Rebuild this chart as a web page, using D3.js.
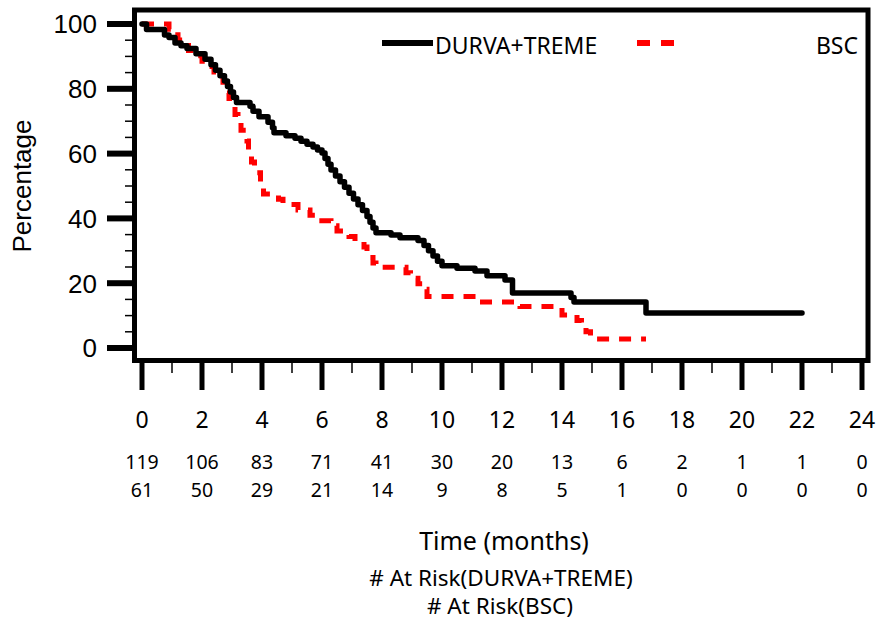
<!DOCTYPE html>
<html>
<head>
<meta charset="utf-8">
<script src="https://cdn.jsdelivr.net/npm/d3@7"></script>
<style>
  body { margin: 0; background: #fff; }
  svg { display: block; }
</style>
</head>
<body>
<div id="chart"></div>
<script>
// KM curves: [month, percent]
const durvaTreme = [
  [0, 100], [0.15, 98.3], [0.75, 96.6], [0.9, 95.8], [1.1, 94.1], [1.3, 93.3],
  [1.5, 92.4], [1.8, 90.8], [2.1, 89.1], [2.3, 87.4], [2.45, 85.7], [2.6, 84.0],
  [2.75, 82.4], [2.85, 80.7], [2.95, 79.0], [3.05, 77.3], [3.15, 75.8], [3.6, 74.6],
  [3.7, 73.1], [3.9, 71.4], [4.2, 69.7], [4.35, 68.0], [4.4, 66.4], [4.8, 65.5],
  [5.1, 64.7], [5.3, 63.8], [5.5, 62.9], [5.7, 62.0], [5.85, 61.1], [6.0, 60.2],
  [6.1, 58.5], [6.2, 56.7], [6.3, 54.9], [6.45, 53.1], [6.6, 51.3], [6.75, 49.6],
  [6.9, 47.8], [7.05, 46.0], [7.2, 44.2], [7.35, 42.4], [7.5, 40.6], [7.6, 38.8],
  [7.7, 37.0], [7.8, 35.6], [8.3, 34.9], [8.6, 34.0], [9.2, 33.2], [9.4, 31.6],
  [9.55, 30.0], [9.7, 28.4], [9.85, 26.8], [10.0, 25.4], [10.5, 24.6], [11.1, 23.8],
  [11.5, 22.3], [12.1, 21.0], [12.35, 17.0], [14.3, 15.6], [14.4, 14.2],
  [16.8, 10.8], [22.0, 10.8]
];
const bsc = [
  [0, 100], [0.9, 98.4], [1.1, 96.7], [1.2, 95.1], [1.4, 93.4], [1.55, 91.8],
  [1.8, 90.2], [2.0, 88.5], [2.2, 86.9], [2.4, 85.2], [2.55, 83.6], [2.7, 82.0],
  [2.8, 78.7], [2.9, 77.0], [3.0, 75.4], [3.1, 72.1], [3.2, 70.5], [3.3, 67.2],
  [3.5, 63.9], [3.55, 60.7], [3.65, 57.4], [3.75, 54.1], [3.95, 50.8], [4.05, 47.5],
  [4.55, 45.9], [4.7, 44.3], [5.2, 42.6], [5.6, 41.0], [5.8, 39.3], [6.3, 37.7],
  [6.5, 36.1], [6.9, 34.4], [7.1, 32.8], [7.4, 31.2], [7.5, 29.5], [7.6, 27.9],
  [7.7, 26.2], [7.8, 24.9], [8.8, 23.2], [8.95, 21.5], [9.2, 19.8], [9.35, 18.1],
  [9.5, 15.9], [11.2, 14.2], [12.6, 12.8], [14.0, 10.2], [14.5, 8.5], [14.65, 6.8],
  [14.8, 5.0], [14.95, 2.8], [16.8, 2.8]
];

const xTicks = d3.range(0, 25, 2);
const yTicks = [0, 20, 40, 60, 80, 100];
const riskDurva = [119, 106, 83, 71, 41, 30, 20, 13, 6, 2, 1, 1, 0];
const riskBsc = [61, 50, 29, 21, 14, 9, 8, 5, 1, 0, 0, 0, 0];

const width = 881, height = 622;

const svg = d3.select("#chart").append("svg")
    .attr("width", width)
    .attr("height", height);

const x = d3.scaleLinear().domain([0, 24]).range([142, 862]);
const y = d3.scaleLinear().domain([0, 100]).range([348, 24]);

// frame
const box = { left: 134.5, top: 10, right: 868, bottom: 360.5 };
svg.append("rect")
    .attr("x", box.left).attr("y", box.top)
    .attr("width", box.right - box.left).attr("height", box.bottom - box.top)
    .attr("fill", "none").attr("stroke", "#000").attr("stroke-width", 5);

// y axis ticks
svg.selectAll(".ymajor").data(yTicks).join("line")
    .attr("x1", 107).attr("x2", box.left)
    .attr("y1", d => y(d)).attr("y2", d => y(d))
    .attr("stroke", "#000").attr("stroke-width", 6);
svg.selectAll(".yminor").data(d3.range(5, 100, 5).filter(d => d % 20))
  .join("line")
    .attr("x1", 125).attr("x2", box.left)
    .attr("y1", d => y(d)).attr("y2", d => y(d))
    .attr("stroke", "#000").attr("stroke-width", 1.5);
svg.selectAll(".ylab").data(yTicks).join("text")
    .attr("x", 97).attr("y", d => y(d))
    .attr("dy", "0.36em")
    .attr("text-anchor", "end")
    .attr("font-family", "Liberation Sans, Arial, sans-serif")
    .attr("font-size", 26)
    .text(d => d);

svg.append("text")
    .attr("transform", "translate(31,186) rotate(-90)")
    .attr("text-anchor", "middle")
    .attr("font-family", "Liberation Sans, Arial, sans-serif")
    .attr("font-size", 26)
    .text("Percentage");

// x axis ticks
svg.selectAll(".xmajor").data(xTicks).join("line")
    .attr("x1", d => x(d)).attr("x2", d => x(d))
    .attr("y1", box.bottom).attr("y2", 390)
    .attr("stroke", "#000").attr("stroke-width", 5);
svg.selectAll(".xminor").data(d3.range(1, 24, 2)).join("line")
    .attr("x1", d => x(d)).attr("x2", d => x(d))
    .attr("y1", box.bottom).attr("y2", 373)
    .attr("stroke", "#000").attr("stroke-width", 1.5);
svg.selectAll(".xlab").data(xTicks).join("text")
    .attr("x", d => x(d)).attr("y", 420)
    .attr("dy", "0.36em")
    .attr("text-anchor", "middle")
    .attr("font-family", "Noto Sans, sans-serif")
    .attr("font-size", 23)
    .text(d => d);

// at risk rows
[riskDurva, riskBsc].forEach((row, i) => {
  svg.selectAll(".risk" + i).data(row).join("text")
      .attr("x", (d, j) => x(xTicks[j])).attr("y", 462 + i * 28)
      .attr("dy", "0.36em")
      .attr("text-anchor", "middle")
      .attr("font-family", "Noto Sans, sans-serif")
      .attr("font-size", 19.5)
      .text(d => d);
});

svg.append("text")
    .attr("x", 504).attr("y", 541).attr("dy", "0.36em")
    .attr("text-anchor", "middle")
    .attr("font-family", "Noto Sans, sans-serif")
    .attr("font-size", 25)
    .text("Time (months)");
svg.append("text")
    .attr("x", 501).attr("y", 578).attr("dy", "0.36em")
    .attr("text-anchor", "middle")
    .attr("font-family", "Noto Sans, sans-serif")
    .attr("font-size", 22.5)
    .text("# At Risk(DURVA+TREME)");
svg.append("text")
    .attr("x", 500).attr("y", 606).attr("dy", "0.36em")
    .attr("text-anchor", "middle")
    .attr("font-family", "Noto Sans, sans-serif")
    .attr("font-size", 22.5)
    .text("# At Risk(BSC)");

// curves
const line = d3.line()
    .x(d => x(d[0]))
    .y(d => y(d[1]))
    .curve(d3.curveStepAfter);

svg.append("path")
    .datum(bsc)
    .attr("d", line)
    .attr("fill", "none")
    .attr("stroke", "#ff0000")
    .attr("stroke-width", 5)
    .attr("stroke-dasharray", "12,10");

svg.append("path")
    .datum(durvaTreme)
    .attr("d", line)
    .attr("fill", "none")
    .attr("stroke", "#000")
    .attr("stroke-width", 5.5)
    .attr("stroke-linejoin", "round")
    .attr("stroke-linecap", "round");

// legend
svg.append("line")
    .attr("x1", 382).attr("x2", 433).attr("y1", 43).attr("y2", 43)
    .attr("stroke", "#000").attr("stroke-width", 6);
svg.append("text")
    .attr("x", 435).attr("y", 46).attr("dy", "0.36em")
    .attr("font-family", "Noto Sans, sans-serif")
    .attr("font-size", 23)
    .text("DURVA+TREME");
svg.append("line")
    .attr("x1", 637).attr("x2", 675).attr("y1", 43).attr("y2", 43)
    .attr("stroke", "#ff0000").attr("stroke-width", 6)
    .attr("stroke-dasharray", "13,11");
svg.append("text")
    .attr("x", 858).attr("y", 46).attr("dy", "0.36em")
    .attr("text-anchor", "end")
    .attr("font-family", "Noto Sans, sans-serif")
    .attr("font-size", 23)
    .text("BSC");
</script>
</body>
</html>
